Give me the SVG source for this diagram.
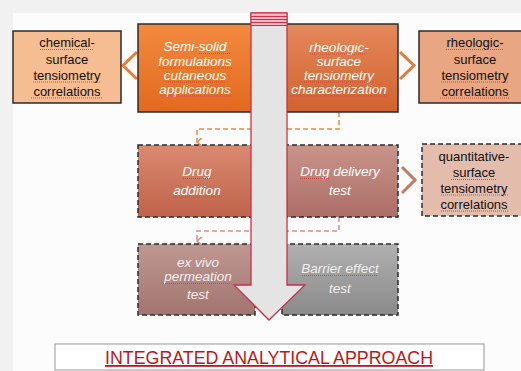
<svg xmlns="http://www.w3.org/2000/svg" width="521" height="371" viewBox="0 0 521 371">
  <defs>
    <linearGradient id="gOrange" x1="0" y1="0" x2="0" y2="1">
      <stop offset="0" stop-color="#f38a3e"/>
      <stop offset="1" stop-color="#e2691f"/>
    </linearGradient>
    <linearGradient id="gOrange2" x1="0" y1="0" x2="0" y2="1">
      <stop offset="0" stop-color="#e4885a"/>
      <stop offset="1" stop-color="#d2622f"/>
    </linearGradient>
    <linearGradient id="gRust" x1="0" y1="0" x2="0" y2="1">
      <stop offset="0" stop-color="#d98a70"/>
      <stop offset="1" stop-color="#c0634a"/>
    </linearGradient>
    <linearGradient id="gMauve" x1="0" y1="0" x2="0" y2="1">
      <stop offset="0" stop-color="#c9948a"/>
      <stop offset="1" stop-color="#ab6e66"/>
    </linearGradient>
    <linearGradient id="gMauve2" x1="0" y1="0" x2="0" y2="1">
      <stop offset="0" stop-color="#bf9892"/>
      <stop offset="1" stop-color="#a27470"/>
    </linearGradient>
    <linearGradient id="gGrey" x1="0" y1="0" x2="0" y2="1">
      <stop offset="0" stop-color="#b0b0b0"/>
      <stop offset="1" stop-color="#8a8a8a"/>
    </linearGradient>
    <marker id="headOrange" viewBox="0 0 8 8" refX="4" refY="7" markerWidth="8" markerHeight="8" markerUnits="userSpaceOnUse" orient="auto-start-reverse">
      <path d="M0,2 L4,7 L8,2" fill="none" stroke="#ee8a44" stroke-width="1.5"/>
    </marker>
    <marker id="headRed" viewBox="0 0 8 8" refX="4" refY="7" markerWidth="8" markerHeight="8" markerUnits="userSpaceOnUse" orient="auto-start-reverse">
      <path d="M0,2 L4,7 L8,2" fill="none" stroke="#e28a82" stroke-width="1.5"/>
    </marker>
  </defs>
  <style>
    .solid { stroke: #2b2b2b; stroke-width: 1.5; }
    .dash { stroke: #2b2b2b; stroke-width: 1.5; stroke-dasharray: 5 3; }
    .t { font-family: "Liberation Sans", Arial, sans-serif; font-size: 13px; text-anchor: middle; }
    .dark { fill: #111; }
    .light { fill: #fff; font-style: italic; font-size: 13.5px; }
    .pale { fill: #f2eeee; font-style: italic; font-size: 13.5px; }
    .spell { stroke: #d04848; stroke-width: 1; stroke-dasharray: 1 1; fill: none; }
    .chev { fill: none; stroke-width: 3; }
  </style>

  <!-- page -->
  <rect x="0" y="0" width="521" height="371" fill="#f1f1f1"/>
  <rect x="13" y="13" width="508" height="358" fill="#fcfcfc"/>

  <!-- connectors -->
  <g id="connectors">
    <polyline points="339,112 339,129 197,129 197,142" fill="none" stroke="#ee8a44" stroke-width="1.5" stroke-dasharray="5 3" marker-end="url(#headOrange)"/>
    <polyline points="339,217 339,231 197,231 197,241" fill="none" stroke="#e28a82" stroke-width="1.5" stroke-dasharray="5 3" marker-end="url(#headRed)"/>
    <polyline class="chev" points="137,52 123,65.5 137,79" stroke="#ef7b33"/>
    <polyline class="chev" points="400,52 414,65.5 400,79" stroke="#dd7a3e"/>
    <polyline class="chev" points="402,167 415,180 402,193" stroke="#c67862"/>
  </g>

  <!-- top row -->
  <g id="chemical-correlations">
    <rect x="13" y="31" width="108" height="72" fill="#f6bc92" class="solid"/>
    <text class="t dark" x="67" y="47">chemical-</text>
    <text class="t dark" x="67" y="64">surface</text>
    <text class="t dark" x="67" y="80">tensiometry</text>
    <text class="t dark" x="67" y="96">correlations</text>
    <path class="spell" d="M40,49.5 H94 M33,82 H101 M31,98 H103"/>
  </g>
  <g id="semi-solid-formulations">
    <rect x="138" y="24" width="124" height="88" fill="url(#gOrange)" class="solid"/>
    <text class="t light" x="195" y="51">Semi-solid</text>
    <text class="t light" x="195" y="66">formulations</text>
    <text class="t light" x="195" y="80">cutaneous</text>
    <text class="t light" x="195" y="94">applications</text>
    <path class="spell" d="M199,53.5 H230 M159,68 H233 M166,82 H225 M160,96 H231"/>
  </g>
  <g id="rheologic-characterization">
    <rect x="276" y="24" width="122" height="88" fill="url(#gOrange2)" class="solid"/>
    <text class="t light" x="339" y="52">rheologic-</text>
    <text class="t light" x="339" y="66">surface</text>
    <text class="t light" x="339" y="80">tensiometry</text>
    <text class="t light" x="339" y="94">characterization</text>
    <path class="spell" d="M310,54 H366 M304,82 H374 M290,96 H388"/>
  </g>
  <g id="rheologic-correlations">
    <rect x="419" y="31" width="103" height="72" fill="#e8a682" class="solid"/>
    <text class="t dark" x="475" y="47">rheologic-</text>
    <text class="t dark" x="475" y="64">surface</text>
    <text class="t dark" x="475" y="80">tensiometry</text>
    <text class="t dark" x="475" y="96">correlations</text>
    <path class="spell" d="M446,49.5 H504 M441,82 H509 M440,98 H510"/>
  </g>

  <!-- middle row -->
  <g id="drug-addition">
    <rect x="138" y="145" width="126" height="72" fill="url(#gRust)" class="dash"/>
    <text class="t light" x="197" y="176">Drug</text>
    <text class="t light" x="197" y="195">addition</text>
    <path class="spell" d="M183,178.5 H212 M173,197 H222"/>
  </g>
  <g id="drug-delivery">
    <rect x="276" y="145" width="122" height="72" fill="url(#gMauve)" class="dash"/>
    <text class="t light" x="340" y="176">Drug delivery</text>
    <text class="t light" x="340" y="195">test</text>
    <path class="spell" d="M300,178.5 H329"/>
  </g>
  <g id="quantitative-correlations">
    <rect x="422" y="144" width="100" height="72" fill="#e4bcac" class="dash"/>
    <text class="t dark" x="474" y="161">quantitative-</text>
    <text class="t dark" x="474" y="177">surface</text>
    <text class="t dark" x="474" y="193">tensiometry</text>
    <text class="t dark" x="474" y="209">correlations</text>
    <path class="spell" d="M451,179.5 H497 M441,195 H508 M441,211 H508"/>
  </g>

  <!-- bottom row -->
  <g id="ex-vivo-permeation">
    <rect x="138" y="244" width="117" height="71" fill="url(#gMauve2)" class="dash"/>
    <text class="t pale" x="198" y="267">ex vivo</text>
    <text class="t pale" x="198" y="281">permeation</text>
    <text class="t pale" x="198" y="299">test</text>
    <path class="spell" d="M163,283.5 H230"/>
  </g>
  <g id="barrier-effect">
    <rect x="282" y="244" width="116" height="71" fill="url(#gGrey)" class="dash"/>
    <text class="t pale" x="340" y="273">Barrier effect</text>
    <text class="t pale" x="340" y="293">test</text>
    <path class="spell" d="M302,275.5 H378"/>
  </g>

  <!-- downward process arrow -->
  <g id="process-arrow">
    <path d="M251,13 H287 V285 H305 L269,320 L234,285 H251 Z" fill="#e4e4e4" stroke="#c8304c" stroke-width="1.3" stroke-linejoin="miter"/>
    <rect x="251" y="13" width="36" height="12.5" fill="#efb6c2" stroke="#c8304c" stroke-width="1"/>
    <path d="M251,16.5 H287 M251,19.5 H287 M251,22.5 H287" stroke="#c8304c" stroke-width="1"/>
  </g>

  <!-- caption -->
  <g id="caption">
    <rect x="55" y="344" width="429" height="26" fill="#ffffff" stroke="#a8a8a8" stroke-width="1.2"/>
    <text x="269" y="364" font-family="Liberation Sans, Arial, sans-serif" font-size="18" fill="#c0141c" text-anchor="middle" text-decoration="underline" textLength="328" lengthAdjust="spacingAndGlyphs">INTEGRATED ANALYTICAL APPROACH</text>
  </g>
</svg>
